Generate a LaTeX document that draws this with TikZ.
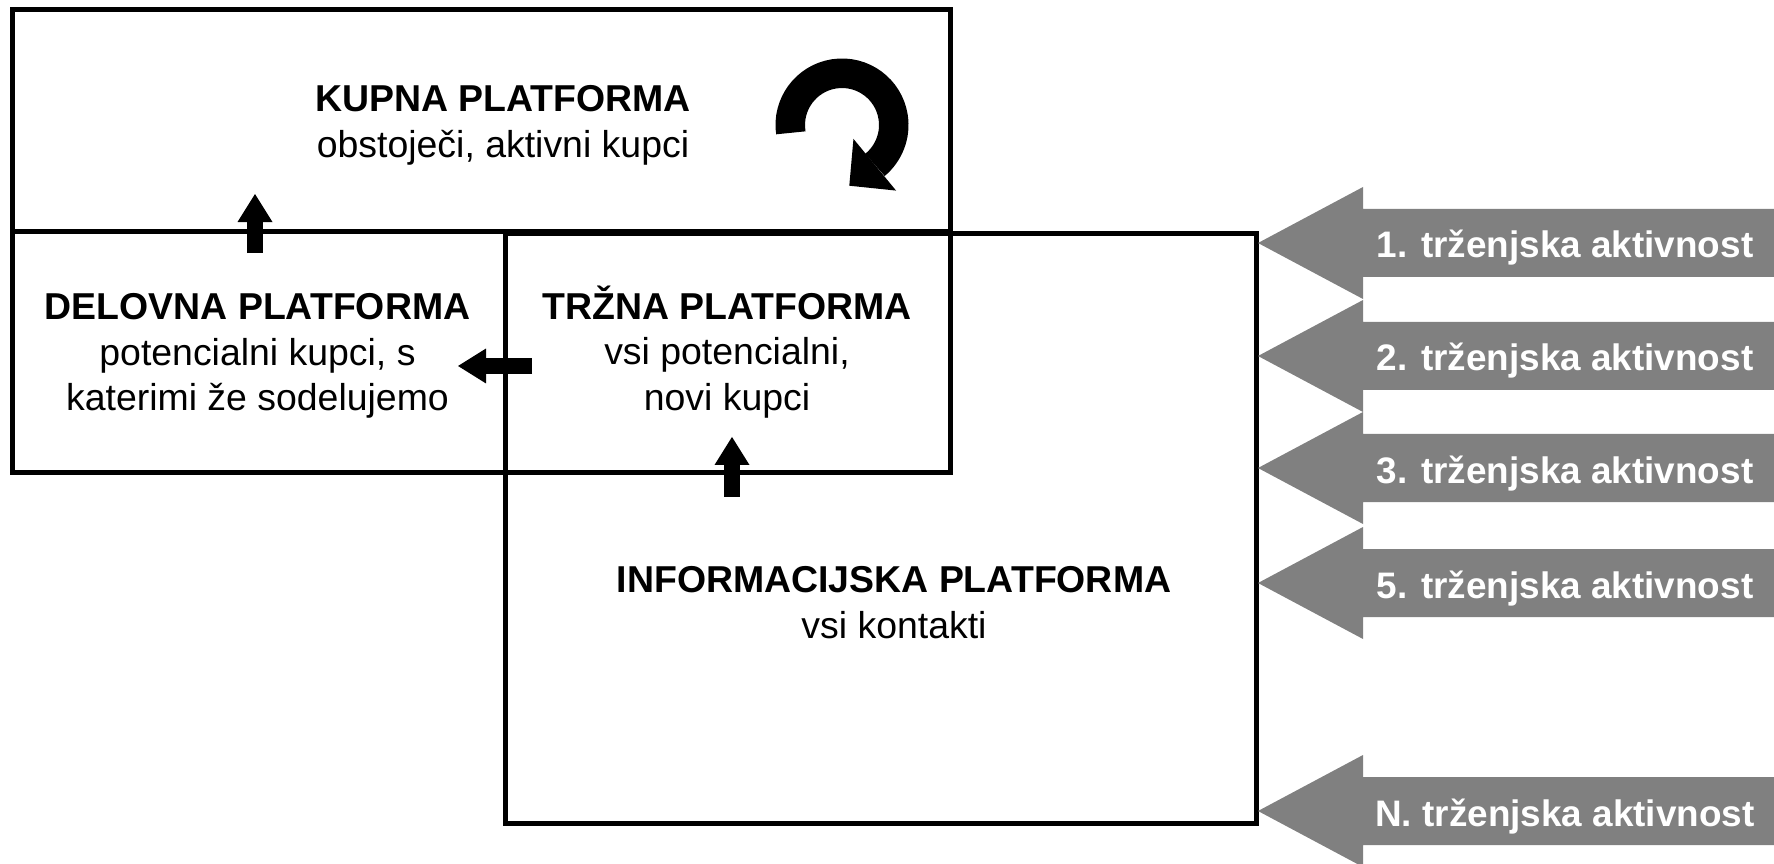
\documentclass[tikz,border=0pt]{standalone}
\usepackage{fontspec}
\setmainfont{Liberation Sans}
\usetikzlibrary{arrows.meta,calc}
\definecolor{actgray}{RGB}{128,128,128}
\tikzstyle{platform} = [rectangle, draw=black, line width=0.1cm, inner sep=0pt, outer sep=0pt]
\tikzstyle{platformtext} = [align=center, font=\fontsize{21.3}{26}\selectfont]
\tikzstyle{activity} = [text=white, font=\fontsize{21}{24}\selectfont\bfseries]
\tikzstyle{blockarrow} = [line width=0.32cm, -{Triangle[width=0.7cm, length=0.56cm, line width=0pt]}]

\begin{document}
\begin{tikzpicture}[x=0.02cm, y=0.02cm]
\useasboundingbox (0,0) rectangle (1774,-864);

\node (kupna) [platform, minimum width=18.76cm, minimum height=4.44cm] at (481.5,-120.5) {};
\node (delovna) [platform, minimum width=9.86cm, minimum height=4.83cm] at (259,-352.25) {};
\node (trzna) [platform, minimum width=8.9cm, minimum height=4.83cm] at (728,-352.25) {};
\node (info) [platform, minimum width=15.02cm, minimum height=11.8cm] at (881,-528.5) {};

\node (kupnaTxt) [platformtext] at (503,-125.5) {\textbf{KUPNA PLATFORMA}\\obstoječi, aktivni kupci};
\node (delovnaTxt) [platformtext] at (257.5,-356) {\textbf{DELOVNA PLATFORMA}\\potencialni kupci, s\\katerimi že sodelujemo};
\node (trznaTxt) [platformtext] at (727,-352) {\textbf{TRŽNA PLATFORMA}\\vsi potencialni,\\novi kupci};
\node (infoTxt) [platformtext] at (894,-602.5) {\textbf{INFORMACIJSKA PLATFORMA}\\vsi kontakti};

\draw [blockarrow] ($(delovna.north)+(-4,-21.5)$) -- ($(delovna.north)+(-4,37.5)$);
\draw [blockarrow] ($(trzna.south)+(4,-24)$) -- ($(trzna.south)+(4,36)$);
\draw [blockarrow] ($(trzna.west)+(26.5,-13.75)$) -- ($(trzna.west)+(-47.5,-13.75)$);

% kroženje kupcev
\coordinate (turn) at (842,-125);
\draw [line width=0.59cm] ($(turn)+(188.7:51.75)$) arc [start angle=188.7, end angle=-50.5, radius=51.75];
\fill ($(turn)+(-50.5:18)$) -- ($(turn)+(-50.5:85)$) -- ($(turn)+(-50.5:51.5)+(-140.5:33)$) -- cycle;

% trzenjske aktivnosti
\foreach \y/\n in {243/1, 356/2, 468/3, 583/5, 811/N} {
  \fill [actgray] (1258,-\y) -- (1363,-\y+56) -- (1363,-\y+34) -- (1774,-\y+34)
    -- (1774,-\y-34) -- (1363,-\y-34) -- (1363,-\y-56) -- cycle;
  \node (act\n) [activity, anchor=base] at (1565,-\y-15) {\n. trženjska aktivnost};
}

\end{tikzpicture}
\end{document}
